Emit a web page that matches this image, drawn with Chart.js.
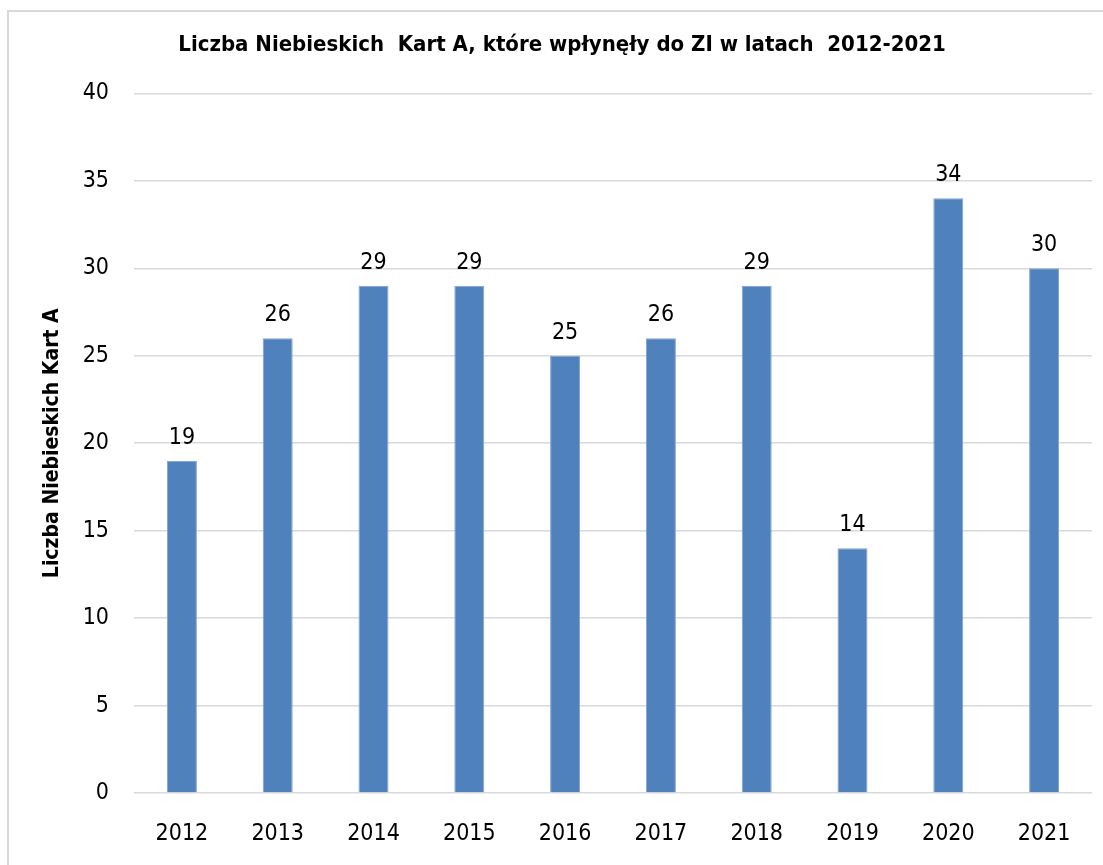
<!DOCTYPE html>
<html lang="pl">
<head>
<meta charset="utf-8">
<title>Liczba Niebieskich Kart A</title>
<script src="https://cdn.jsdelivr.net/npm/chart.js@4/dist/chart.umd.min.js"></script>
<style>
  html, body { margin: 0; padding: 0; background: #fff; }
  #wrap { position: relative; width: 1103px; height: 865px; overflow: hidden; }
  #frame {
    position: absolute; left: 7px; top: 10px; width: 1120px; height: 900px;
    border-left: 2px solid #d9d9d9; border-top: 2px solid #d9d9d9;
    pointer-events: none;
  }
  canvas { position: absolute; left: 0; top: 0; }
</style>
</head>
<body>
<div id="wrap">
  <canvas id="myChart" width="1103" height="865"></canvas>
  <div id="frame"></div>
</div>
<script>
// data
const years = ['2012', '2013', '2014', '2015', '2016', '2017', '2018', '2019', '2020', '2021'];
const cardCounts = [19, 26, 29, 29, 25, 26, 29, 14, 34, 30];
const yTicks = [0, 5, 10, 15, 20, 25, 30, 35, 40];

const chartTitle = 'Liczba Niebieskich  Kart A, które wpłynęły do ZI w latach  2012-2021';
const yTitle = 'Liczba Niebieskich Kart A';

const FONT = "'Liberation Sans Narrow', 'Arial Narrow', 'DejaVu Sans Condensed', sans-serif";

Chart.defaults.font.family = FONT;
Chart.defaults.color = '#000';

// value labels above the bars
const valueLabels = {
  id: 'valueLabels',
  afterDatasetsDraw(chart) {
    const ctx = chart.ctx;
    const meta = chart.getDatasetMeta(0);
    ctx.save();
    ctx.font = '23px ' + FONT;
    ctx.fillStyle = '#000';
    ctx.textAlign = 'center';
    ctx.textBaseline = 'alphabetic';
    meta.data.forEach((bar, i) => {
      ctx.fillText(String(cardCounts[i]), bar.x, bar.y - 17);
    });
    ctx.restore();
  }
};

new Chart(document.getElementById('myChart'), {
  type: 'bar',
  data: {
    labels: years,
    datasets: [{
      data: cardCounts,
      backgroundColor: '#4F81BD',
      borderColor: '#7FA3D1',
      borderWidth: 1,
      barPercentage: 1,
      categoryPercentage: 0.313
    }]
  },
  options: {
    responsive: false,
    animation: false,
    // left padding keeps the title centred like the original, y axis fills the rest
    layout: { padding: { left: 32, right: 11, top: 0, bottom: 0 } },
    plugins: {
      legend: { display: false },
      tooltip: { enabled: false },
      title: {
        display: true,
        text: chartTitle,
        font: { size: 22, weight: 'bold' },
        color: '#000',
        padding: { top: 32, bottom: 35 }
      }
    },
    scales: {
      x: {
        grid: { display: false, drawTicks: false },
        border: { display: false },
        ticks: { font: { size: 23 }, padding: 27, color: '#000' },
        afterFit(scale) { scale.height = 72; }
      },
      y: {
        min: 0,
        max: 40,
        afterBuildTicks(scale) { scale.ticks = yTicks.map(v => ({ value: v })); },
        grid: { color: '#d9d9d9', lineWidth: 1.5, drawTicks: false },
        border: { display: false },
        ticks: { font: { size: 23 }, padding: 25, color: '#000' },
        title: {
          display: true,
          text: yTitle,
          font: { size: 21, weight: 'bold' },
          color: '#000',
          padding: { top: 8, bottom: 0 }
        },
        afterFit(scale) { scale.width = 102; }
      }
    }
  },
  plugins: [valueLabels]
});
</script>
</body>
</html>
